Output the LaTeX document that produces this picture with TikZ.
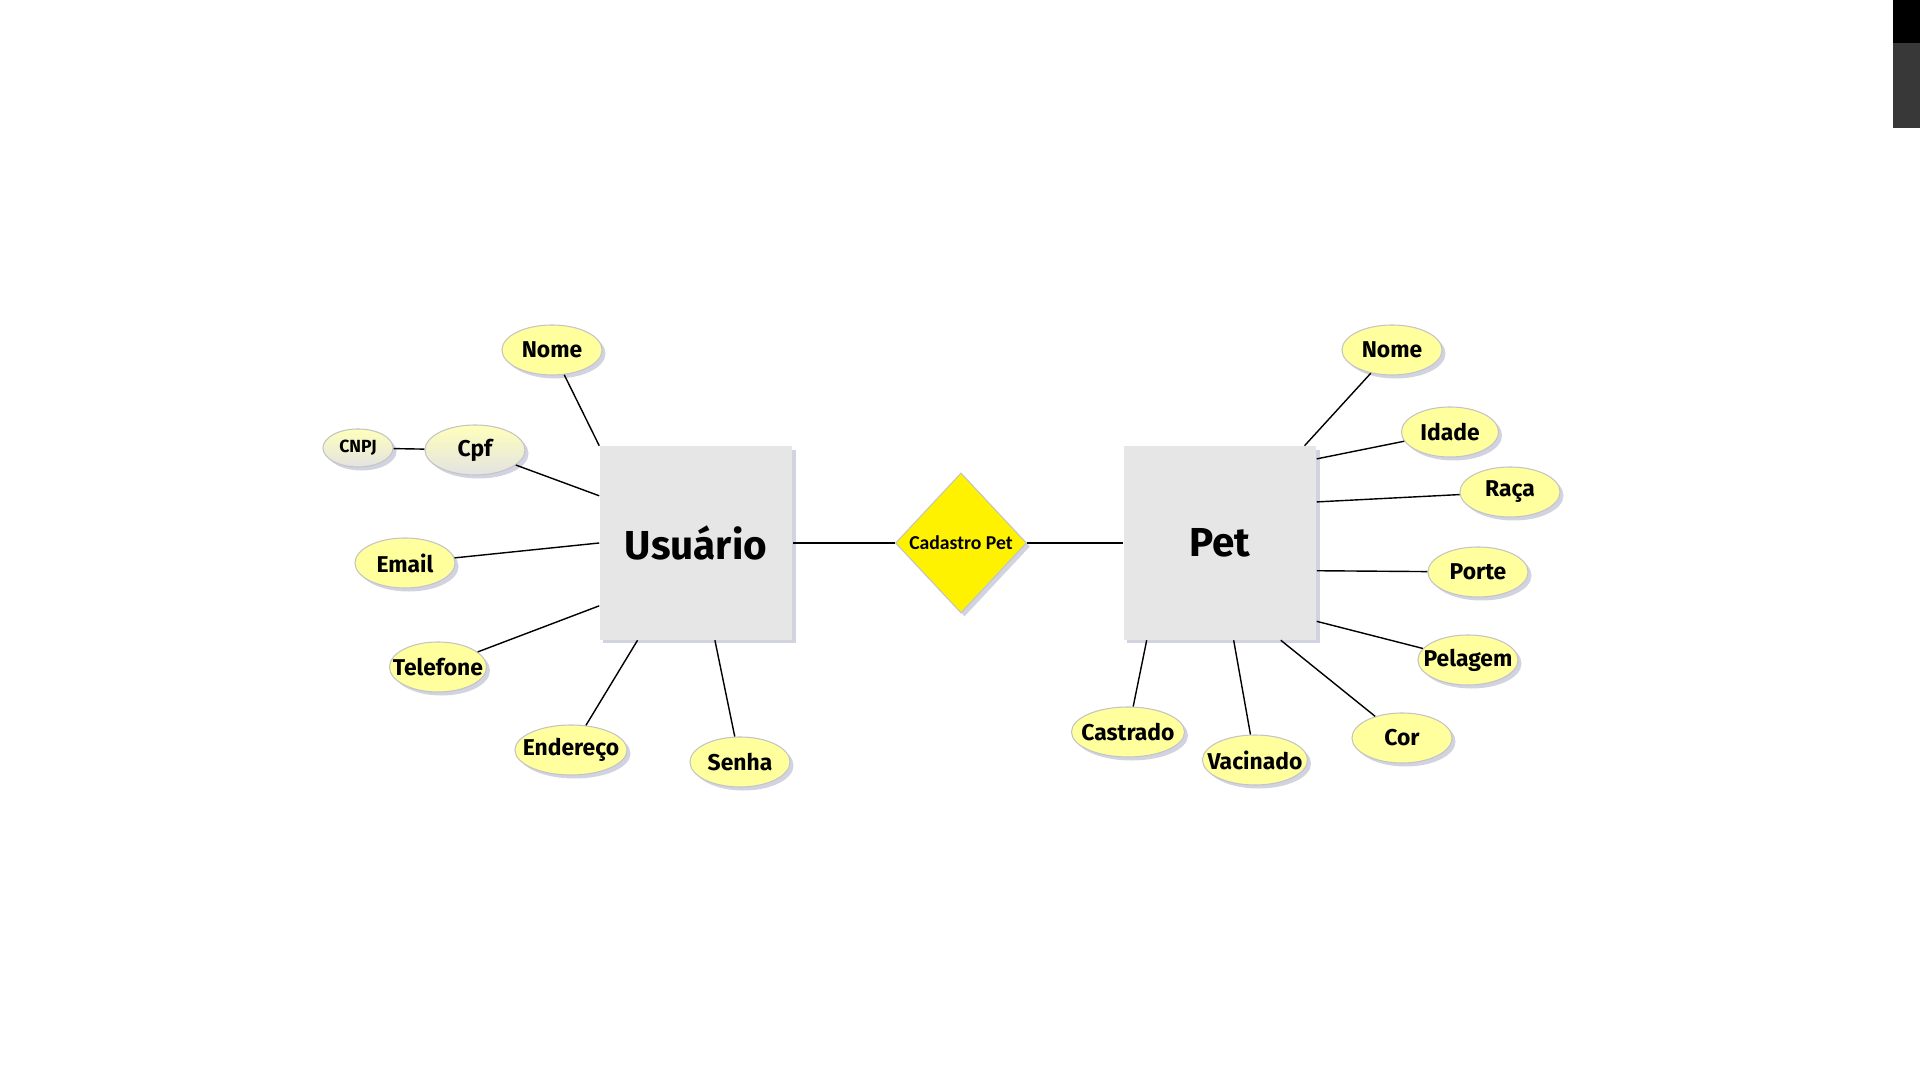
\documentclass[tikz,border=0pt]{standalone}
\usepackage{fontspec}
\setmainfont{Fira Sans}
\newfontfamily\calib{Carlito}
\usetikzlibrary{shapes.geometric,shadows}
\definecolor{attrfill}{HTML}{FFFF9E}
\definecolor{attrline}{HTML}{C4C4C4}
\definecolor{entfill}{HTML}{E6E6E6}
\definecolor{shadowgray}{HTML}{B2B6CC}
\newcommand{\Attr}[1]{\makebox[0pt]{#1}}

\begin{document}
\begin{tikzpicture}[x=0.01cm,y=-0.01cm,
  shdw/.style={drop shadow={shadow xshift=0.35mm,shadow yshift=-0.35mm,fill=shadowgray,opacity=0.6}},
  attr/.style={ellipse,draw=attrline,line width=0.3pt,fill=attrfill,inner sep=0pt,
    minimum width=1cm,minimum height=0.5cm,font=\bfseries\fontsize{6.5}{7}\selectfont,shdw},
  keyattr/.style={attr,top color=attrfill!70!white,bottom color=gray!22},
  entity/.style={rectangle,fill=entfill,inner sep=0pt,minimum width=1.92cm,
    minimum height=1.93cm,font=\bfseries\fontsize{11.5}{12}\selectfont,shdw},
  relation/.style={diamond,draw=attrline,line width=0.3pt,fill=yellow,inner sep=0pt,
    minimum width=1.31cm,minimum height=1.4cm,font=\calib\bfseries\fontsize{5.6}{6}\selectfont,shdw},
  link/.style={line width=0.4pt}]
  \useasboundingbox (0,0) rectangle (1920,1080);
  % screen edge
  \fill[black] (1893,0) rectangle (1920,43);
  \fill[black!78] (1893,43) rectangle (1920,128);

  % entities and relation
  \node[entity] (usr) at (696,543) {Usuário};
  \node[relation] (cad) at (961,543) {Cadastro Pet};
  \node[entity] (pet) at (1220,543) {Pet};

  % Usuario attributes
  \node[attr] (unome) at (552,350) {\Attr{Nome}};
  \node[keyattr] (ucpf) at (475,450) {\Attr{Cpf}};
  \node[keyattr,minimum width=0.7cm,minimum height=0.38cm,font=\bfseries\fontsize{5}{6}\selectfont] (ucnpj) at (358,448) {\Attr{CNPJ}};
  \node[attr] (uemail) at (405,563) {\Attr{Email}};
  \node[attr,minimum width=0.97cm] (utel) at (438,667) {\Attr{Telefone}};
  \node[attr,minimum width=1.12cm] (uend) at (571,750) {\Attr{Endereço}};
  \node[attr] (usenha) at (740,762) {\Attr{Senha}};

  % Pet attributes
  \node[attr] (pnome) at (1392,350) {\Attr{Nome}};
  \node[attr,minimum width=0.97cm] (pidade) at (1450,432) {\Attr{Idade}};
  \node[attr] (praca) at (1510,492) {\Attr{Raça}};
  \node[attr] (pporte) at (1478,572) {\Attr{Porte}};
  \node[attr] (ppelagem) at (1468,660) {\Attr{Pelagem}};
  \node[attr] (pcor) at (1402,738) {\Attr{Cor}};
  \node[attr,minimum width=1.05cm] (pvac) at (1255,760) {\Attr{Vacinado}};
  \node[attr,minimum width=1.13cm] (pcast) at (1128,732) {\Attr{Castrado}};

  \path[link]
    (unome) edge (usr.north west)
    (ucpf) edge (usr.154)
    (ucnpj) edge (ucpf)
    (uemail) edge (usr.west)
    (utel) edge (usr.213)
    (uend) edge (usr.239)
    (usenha) edge (usr.281)
    (usr) edge (cad)
    (cad) edge (pet)
    (pnome) edge (pet.49)
    (pidade) edge (pet.41)
    (praca) edge (pet.23)
    (pporte) edge (pet.344)
    (ppelagem) edge (pet.321)
    (pcor) edge (pet.302)
    (pvac) edge (pet.278)
    (pcast) edge (pet.233);
\end{tikzpicture}
\end{document}
